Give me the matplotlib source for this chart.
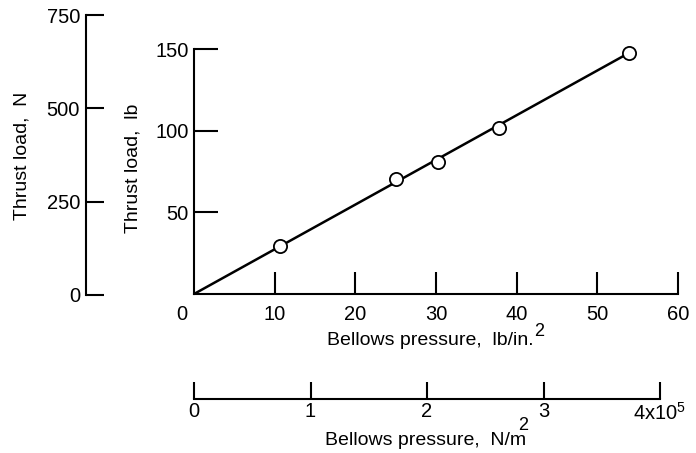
import matplotlib
matplotlib.use("Agg")
import matplotlib.pyplot as plt

# ---- data ----
pressure_psi = [10.7, 25.1, 30.2, 37.8, 53.9]
thrust_lb = [29.5, 70.5, 81.0, 102.0, 147.7]
fit_x = [0.0, 53.9]
fit_y = [0.0, 147.7]

x_ticks_psi = [10, 20, 30, 40, 50, 60]
y_ticks_lb = [50, 100, 150]
y_ticks_N = [0, 250, 500, 750]
x_ticks_Pa = [0, 1, 2, 3, 4]
x_ticklabels_Pa = ["0", "1", "2", "3", r"4x10$^{5}$"]

plt.rcParams['font.family'] = ['Liberation Sans', 'DejaVu Sans']
plt.rcParams['mathtext.fontset'] = 'custom'
plt.rcParams['mathtext.rm'] = 'Liberation Sans'
plt.rcParams['mathtext.it'] = 'Liberation Sans:italic'
plt.rcParams['mathtext.bf'] = 'Liberation Sans:bold'
plt.rcParams['mathtext.default'] = 'rm'
FS = 14
TFS = 14.5
W, H = 696, 453

fig = plt.figure(figsize=(W / 100, H / 100), dpi=100)
fig.patch.set_facecolor('white')

def fx(px):
    return px / W

def fy(py):
    return 1 - py / H

LW = 1.5

# ---- main axes (lb vs lb/in^2) ----
ax = fig.add_axes([fx(194), fy(294), fx(678) - fx(194), fy(49.3) - fy(294)])
ax.set_xlim(0, 60)
ax.set_ylim(0, 150)
for s in ['top', 'right']:
    ax.spines[s].set_visible(False)
for s in ['left', 'bottom']:
    ax.spines[s].set_linewidth(LW)
ax.patch.set_alpha(0)
ax.set_xticks(x_ticks_psi)
ax.set_xticklabels([str(v) for v in x_ticks_psi])
ax.set_yticks(y_ticks_lb)
ax.set_yticklabels([str(v) for v in y_ticks_lb])
ax.tick_params(axis='x', direction='in', length=15.8, width=LW, pad=8.0,
               labelsize=TFS, color='black')
ax.tick_params(axis='y', direction='in', length=17.3, width=LW, pad=4.0,
               labelsize=TFS, color='black')
ax.annotate('0', xy=(0, 0), xycoords='data', xytext=(-8.6, -8.0),
            textcoords='offset points', ha='center', va='top', fontsize=TFS)

ax.plot(fit_x, fit_y, color='black', lw=1.8, solid_capstyle='butt', zorder=2)
ax.plot(pressure_psi, thrust_lb, linestyle='none', marker='o', markersize=9.5,
        markerfacecolor='white', markeredgecolor='black', markeredgewidth=1.3,
        zorder=3, clip_on=False)

# ---- secondary thrust axis (N) ----
axN = fig.add_axes([fx(86), fy(295), 0.001, fy(15) - fy(295)])
axN.set_ylim(0, 750)
axN.set_xticks([])
axN.set_yticks(y_ticks_N)
axN.set_yticklabels([str(v) for v in y_ticks_N])
for s in ['top', 'right', 'bottom']:
    axN.spines[s].set_visible(False)
axN.spines['left'].set_linewidth(LW)
axN.patch.set_alpha(0)
axN.tick_params(axis='y', direction='in', length=13.0, width=LW, pad=4.3,
                labelsize=TFS)

# ---- secondary pressure axis (N/m^2) ----
axP = fig.add_axes([fx(194), fy(399.3), fx(660) - fx(194), 0.001])
axP.set_xlim(0, 4)
axP.set_yticks([])
axP.set_xticks(x_ticks_Pa)
axP.set_xticklabels(x_ticklabels_Pa)
for s in ['top', 'right', 'left']:
    axP.spines[s].set_visible(False)
axP.spines['bottom'].set_linewidth(LW)
axP.patch.set_alpha(0)
axP.tick_params(axis='x', direction='in', length=12.2, width=LW, pad=2.0,
                labelsize=TFS)
# nudge the last label so the whole "4x10^5" sits centred on its tick like the reference
lbl = axP.get_xticklabels()[-1]
lbl.set_horizontalalignment('center')

# ---- axis titles ----
fig.text(fx(133), fy(168), 'Thrust load,  lb', rotation=90, ha='center',
         va='center', fontsize=FS)
fig.text(fx(22), fy(156), 'Thrust load,  N', rotation=90, ha='center',
         va='center', fontsize=FS)

fig.text(fx(327), fy(345), 'Bellows pressure,  lb/in.', ha='left',
         va='baseline', fontsize=FS)
fig.text(fx(534), fy(336), '2', ha='left', va='baseline', fontsize=FS - 1)

fig.text(fx(325), fy(445), 'Bellows pressure,  N/m', ha='left',
         va='baseline', fontsize=FS)
fig.text(fx(518), fy(430), '2', ha='left', va='baseline', fontsize=FS - 1)

fig.savefig('out.png', dpi=100, facecolor='white')
